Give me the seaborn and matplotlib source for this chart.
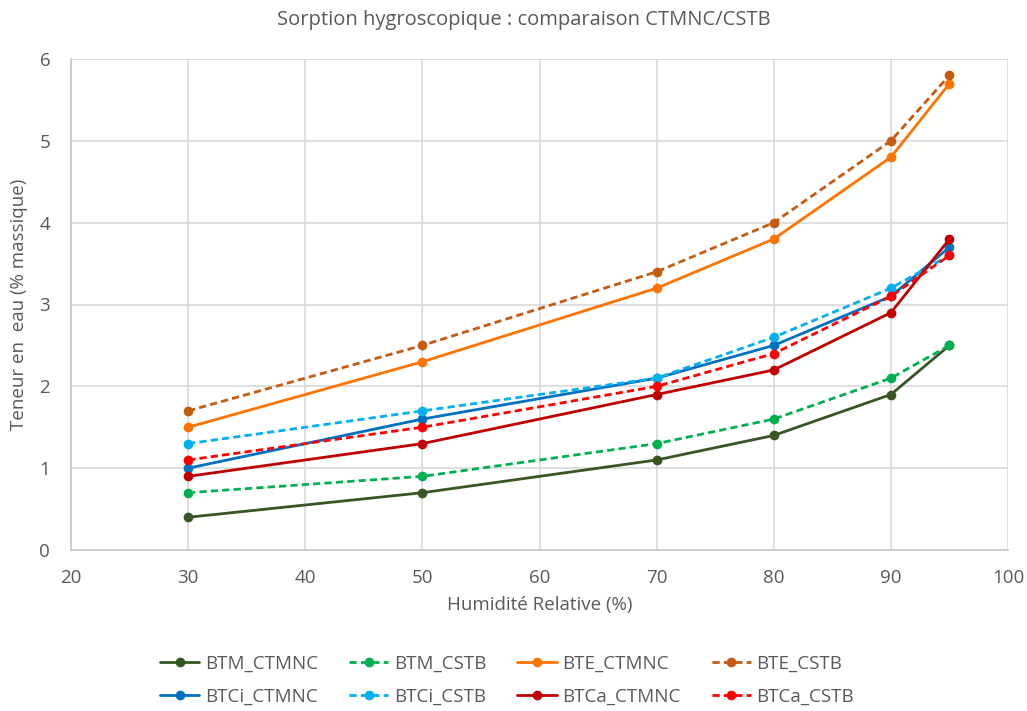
import matplotlib
matplotlib.use("Agg")
import matplotlib.pyplot as plt
import seaborn as sns
import pandas as pd

humidity = [30, 50, 70, 80, 90, 95]
BTM_CTMNC = [0.4, 0.7, 1.1, 1.4, 1.9, 2.5]
BTM_CSTB = [0.7, 0.9, 1.3, 1.6, 2.1, 2.5]
BTE_CTMNC = [1.5, 2.3, 3.2, 3.8, 4.8, 5.7]
BTE_CSTB = [1.7, 2.5, 3.4, 4.0, 5.0, 5.8]
BTCi_CTMNC = [1.0, 1.6, 2.1, 2.5, 3.1, 3.7]
BTCi_CSTB = [1.3, 1.7, 2.1, 2.6, 3.2, 3.6]
BTCa_CTMNC = [0.9, 1.3, 1.9, 2.2, 2.9, 3.8]
BTCa_CSTB = [1.1, 1.5, 2.0, 2.4, 3.1, 3.6]

series = [
    ("BTM_CTMNC", BTM_CTMNC, "#375623", "-"),
    ("BTM_CSTB", BTM_CSTB, "#00B050", "--"),
    ("BTE_CTMNC", BTE_CTMNC, "#FF7300", "-"),
    ("BTE_CSTB", BTE_CSTB, "#C55A11", "--"),
    ("BTCi_CTMNC", BTCi_CTMNC, "#0070C0", "-"),
    ("BTCi_CSTB", BTCi_CSTB, "#00B0F0", "--"),
    ("BTCa_CTMNC", BTCa_CTMNC, "#C00000", "-"),
    ("BTCa_CSTB", BTCa_CSTB, "#FF0000", "--"),
]

sns.set_theme(style="whitegrid")
plt.rcParams['font.family'] = ['Open Sans', 'DejaVu Sans']
gray = "#595959"

W, H = 1027, 711
fig = plt.figure(figsize=(W / 100, H / 100), dpi=100)
x0, x1, y0, y1 = 71, 1008, 59, 550
ax = fig.add_axes([x0 / W, 1 - y1 / H, (x1 - x0) / W, (y1 - y0) / H])

handles = {}
for name, vals, col, ls in series:
    df = pd.DataFrame({"x": humidity, "y": vals})
    sns.lineplot(data=df, x="x", y="y", ax=ax, color=col,
                 linewidth=2, marker="o", markersize=7, markeredgewidth=0,
                 label=name, legend=False)
    ln = ax.lines[-1]
    if ls == "--":
        ln.set_dashes((2.6, 1.5))
    handles[name] = ln

ax.set_xlim(20, 100)
ax.set_ylim(0, 6)
ax.set_xticks(range(20, 101, 10))
ax.set_yticks(range(0, 7))
ax.grid(True, color="#D9D9D9", linewidth=1.2)
for k, s in ax.spines.items():
    s.set_visible(False)
for k in ("left", "bottom"):
    ax.spines[k].set_visible(True)
    ax.spines[k].set_color("#C8C8C8")
    ax.spines[k].set_linewidth(1.2)
ax.tick_params(axis="both", colors="#C8C8C8", labelcolor=gray, labelsize=13.5,
               length=5, width=1.2, direction="out", pad=9)
ax.tick_params(axis="y", pad=10)
ax.set_xlabel("Humidité Relative (%)", color=gray, fontsize=13.5)
ax.xaxis.set_label_coords(0.5, (y1 - 596) / (y1 - y0))
ax.set_ylabel("Teneur en  eau (% massique)", color=gray, fontsize=13.5)
ax.yaxis.set_label_coords((28 - x0) / (x1 - x0), 0.5)
fig.text(524 / W, 1 - 20 / H, "Sorption hygroscopique : comparaison CTMNC/CSTB",
         color=gray, fontsize=14.5, ha="center", va="center")

order = ["BTM_CTMNC", "BTCi_CTMNC", "BTM_CSTB", "BTCi_CSTB",
         "BTE_CTMNC", "BTCa_CTMNC", "BTE_CSTB", "BTCa_CSTB"]
leg = fig.legend([handles[n] for n in order], order, ncol=4,
                 loc="center", bbox_to_anchor=(507 / W, 1 - 680 / H), frameon=False,
                 fontsize=13.5, handlelength=2.1, columnspacing=1.65,
                 labelspacing=0.8, handletextpad=0.3, borderpad=0)
for t in leg.get_texts():
    t.set_color(gray)

fig.savefig("out.png", dpi=100)
